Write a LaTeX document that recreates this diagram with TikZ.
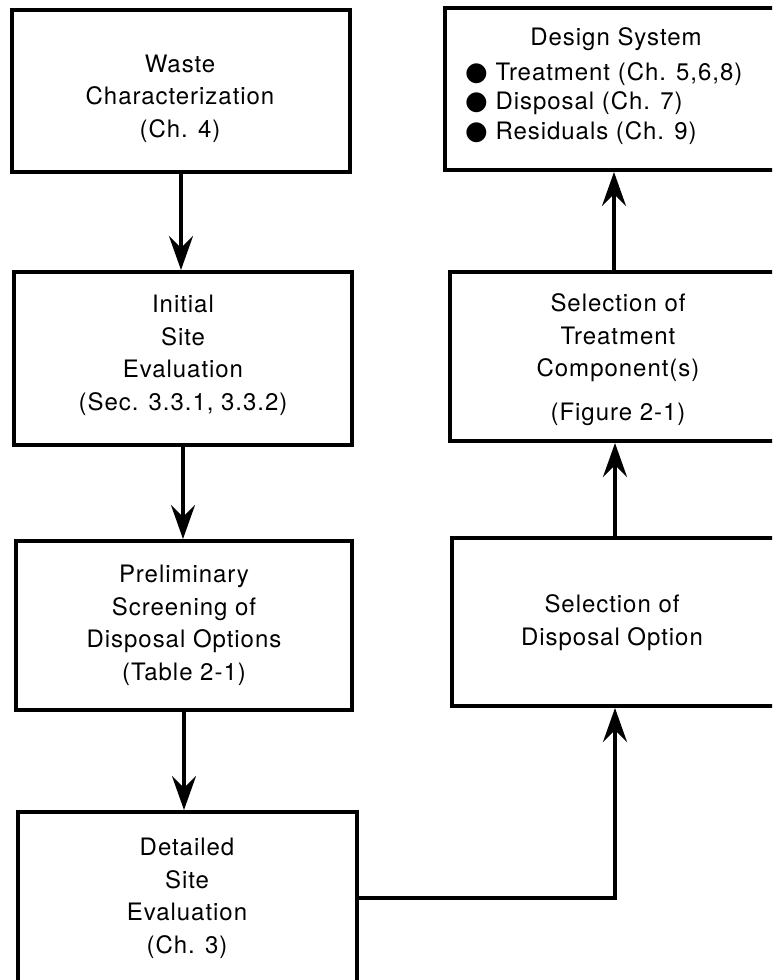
\documentclass[tikz,border=0pt]{standalone}
\usepackage{fontspec}
\setmainfont[LetterSpace=4]{TeX Gyre Heros}
\newfontfamily\symfont{DejaVu Sans}
\usetikzlibrary{arrows.meta}
\begin{document}
\begin{tikzpicture}[x=1pt,y=-1pt,
  box/.style={draw, line width=4pt, rectangle, inner sep=0pt},
  lbl/.style={align=center, font=\fontsize{24}{32.5}\selectfont, anchor=base, inner sep=0pt},
  conn/.style={line width=3.5pt, -{Stealth[length=34pt,width=24pt,inset=12pt]}}]
\useasboundingbox (0,0) rectangle (772,980);
\clip (0,0) rectangle (772,980);
% boxes
\node[box, minimum width=338pt, minimum height=162pt] (b1) at (181,91) {};
\node[box, minimum width=338pt, minimum height=173pt] (b2) at (183,358.5) {};
\node[box, minimum width=336pt, minimum height=169pt] (b3) at (184,625.5) {};
\node[box, minimum width=339pt, minimum height=172pt] (b4) at (187.5,898) {};
\node[box, minimum width=326pt, minimum height=168pt] (b5) at (615,622) {};
\node[box, minimum width=328pt, minimum height=169pt] (b6) at (614,356.5) {};
\node[box, minimum width=333pt, minimum height=162pt] (b7) at (611.5,89) {};
% texts
\node[lbl] (t1) at (180,137) {Waste\\Characterization\\(Ch. 4)};
\node[lbl] (t2) at (183,410) {Initial\\Site\\Evaluation\\(Sec. 3.3.1, 3.3.2)};
\node[lbl] (t3) at (184,680) {Preliminary\\Screening of\\Disposal Options\\(Table 2-1)};
\node[lbl] (t4) at (187,953) {Detailed\\Site\\Evaluation\\(Ch. 3)};
\node[lbl] (t5) at (612,645) {Selection of\\Disposal Option};
\node[lbl] (t6) at (618,420) {Selection of\\Treatment\\Component(s)\\[11pt](Figure 2-1)};
\node[lbl] (t7) at (616,45) {Design System};
\node[lbl, align=left, anchor=base west, font=\fontsize{24}{29.5}\selectfont] (t8) at (465,139)
  {{\symfont\fontsize{26}{26}\selectfont ●} Treatment (Ch. 5,6,8)\\{\symfont\fontsize{26}{26}\selectfont ●} Disposal (Ch. 7)\\{\symfont\fontsize{26}{26}\selectfont ●} Residuals (Ch. 9)};
% connectors
\draw[conn] (b1.south) -- (b1.south |- b2.north);
\draw[conn] (b2.south) -- (b2.south |- b3.north);
\draw[conn] (b3.south) -- (b3.south |- b4.north);
\draw[conn] (b4.east) -| (b5.south);
\draw[conn] (b5.north) -- (b5.north |- b6.south);
\draw[conn] (b6.north) -- (b6.north |- b7.south);
\end{tikzpicture}
\end{document}
